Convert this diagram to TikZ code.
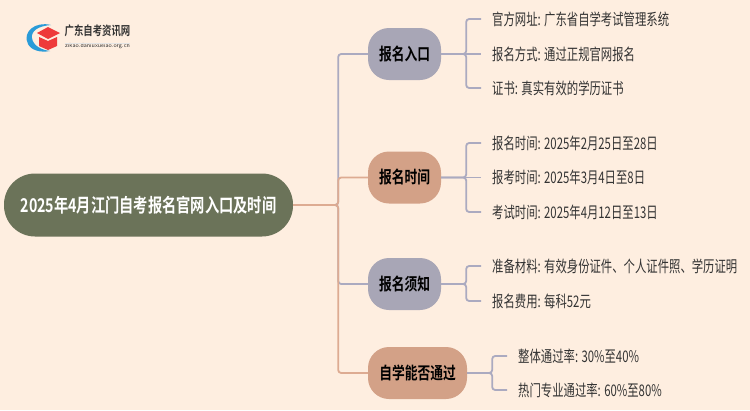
\documentclass[tikz,border=0pt]{standalone}
\usepackage{fontspec}
\usepackage{xcolor}
\usetikzlibrary{positioning}
\newfontfamily\cjk[FakeStretch=0.71]{Noto Sans CJK SC}
\newfontfamily\cjkbold[FakeStretch=0.75]{Noto Sans CJK SC Bold}
\definecolor{paper}{HTML}{FEEEE0}
\definecolor{rootgreen}{HTML}{6B7359}
\definecolor{slate}{HTML}{A8A6B6}
\definecolor{clay}{HTML}{D3A187}
\definecolor{claylink}{HTML}{DDAB92}
\definecolor{slatelink}{HTML}{ABAAC0}
\definecolor{inktext}{HTML}{333333}
\definecolor{logored}{HTML}{EE3A3A}
\definecolor{logoblue}{HTML}{2A9BD8}
\tikzset{
	rootbox/.style={rounded corners=31pt, fill=rootgreen, text=white, minimum width=289pt, minimum height=63pt, inner sep=0pt, font=\cjkbold\fontsize{19}{20}\selectfont},
	branch/.style={rounded corners=21pt, minimum height=52pt, inner sep=0pt, text=black, font=\cjkbold\fontsize{17}{20}\selectfont},
	leaf/.style={anchor=west, inner xsep=11pt, inner ysep=0pt, text=inktext, font=\cjk\fontsize{16}{18}\selectfont},
	link/.style={line width=1.8pt, rounded corners=3pt}
}
\begin{document}
\begin{tikzpicture}[x=1pt, y=-1pt]
	\fill[paper] (0,0) rectangle (750,410);
	\useasboundingbox (0,0) rectangle (750,410);

	% logo
	\fill[logoblue] (51,25) .. controls (35,21) and (22,32) .. (28,44) .. controls (31,50) and (40,53) .. (50,51) .. controls (42,50) and (33,46) .. (32,38) .. controls (31,31) and (38,26) .. (51,25) -- cycle;
	\fill[logored] (37,33) -- (48,27) -- (60,33) -- (48,39) -- cycle;
	\fill[logored] (39,37) -- (48,41) -- (57,37) -- (57,46) -- (48,50) -- (39,46) -- cycle;
	\node[inner sep=0pt, text=inktext, font=\cjkbold\fontsize{12.5}{14}\selectfont] (logotext) at (97.5,31) {广东自考资讯网};
	\node[inner sep=0pt, text=inktext, font=\sffamily\fontsize{6}{7}\selectfont, below=6pt of logotext] (logourl) {zikao.daniuxueiao.org.cn};
	\draw[line width=0.5pt, black!10] (logourl.north west) -- (logourl.north east);

	\node[rootbox] (root) at (148.5,205) {2025年4月江门自考报名官网入口及时间};

	\node[branch, fill=slate, minimum width=73pt] (rukou) at (404.5,54) {报名入口};
	\node[branch, fill=clay, minimum width=73pt] (shijian) at (404.5,177.5) {报名时间};
	\node[branch, fill=slate, minimum width=73pt] (xuzhi) at (404.5,284) {报名须知};
	\node[branch, fill=clay, minimum width=99pt] (tongguo) at (417.5,373) {自学能否通过};

	\node[leaf] (r1) at (481,19) {官方网址: 广东省自学考试管理系统};
	\node[leaf] (r2) at (481,54) {报名方式: 通过正规官网报名};
	\node[leaf] (r3) at (481,88) {证书: 真实有效的学历证书};
	\node[leaf] (s1) at (481,143) {报名时间: 2025年2月25日至28日};
	\node[leaf] (s2) at (481,177.5) {报考时间: 2025年3月4日至8日};
	\node[leaf] (s3) at (481,212) {考试时间: 2025年4月12日至13日};
	\node[leaf] (x1) at (481,266) {准备材料: 有效身份证件、个人证件照、学历证明};
	\node[leaf] (x2) at (481,301) {报名费用: 每科52元};
	\node[leaf] (t1) at (507,356) {整体通过率: 30\%至40\%};
	\node[leaf] (t2) at (507,390) {热门专业通过率: 60\%至80\%};

	% main branches, later ones lie over the trunk
	\draw[link, slatelink] (root.east) -- ++(45,0) |- (rukou.west);
	\draw[link, claylink] (root.east) -- ++(45,0) |- (shijian.west);
	\draw[link, slatelink] (root.east) -- ++(45,0) |- (xuzhi.west);
	\draw[link, claylink] (root.east) -- ++(45,0) |- (tongguo.west);

	\foreach \leafname in {r1,r3}
		\draw[link, slatelink] (rukou.east) -- ++(25,0) |- (\leafname.west);
	\draw[link, slatelink] (rukou.east) -- (r2.west);
	\foreach \leafname in {s1,s3}
		\draw[link, slatelink] (shijian.east) -- ++(25,0) |- (\leafname.west);
	\draw[link, slatelink] (shijian.east) -- (s2.west);
	\foreach \leafname in {x1,x2}
		\draw[link, slatelink] (xuzhi.east) -- ++(25,0) |- (\leafname.west);
	\foreach \leafname in {t1,t2}
		\draw[link, slatelink] (tongguo.east) -- ++(25,0) |- (\leafname.west);
\end{tikzpicture}
\end{document}
